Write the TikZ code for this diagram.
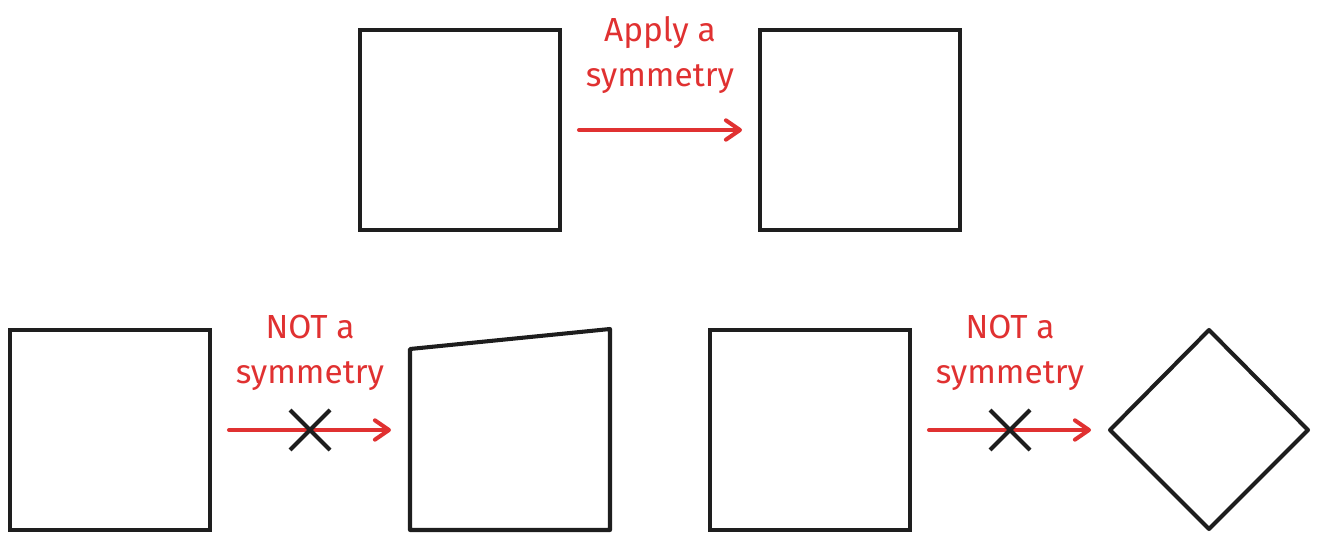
\documentclass[tikz,border=0pt]{standalone}
\usepackage{fontspec}
\setmainfont{Fira Sans}
\usetikzlibrary{arrows.meta}
\definecolor{inkblack}{HTML}{1E1E1E}
\definecolor{inkred}{HTML}{E03131}
\tikzset{
  shapebox/.style={draw=inkblack,line width=2.3pt,minimum size=4cm,inner sep=0pt,outer sep=0pt},
  maparrow/.style={draw=inkred,line width=2.3pt,line cap=round,-{Straight Barb[length=8pt,width=11pt,line width=2.3pt,round]}},
  maplabel/.style={text=inkred,align=center,font=\fontsize{19}{25.5}\selectfont},
  crossmark/.style={draw=inkblack,line width=2.3pt}
}
\begin{document}
\begin{tikzpicture}[x=0.02cm,y=-0.02cm]
                \useasboundingbox (0,0) rectangle (1317,540);
                % top row
                \node[shapebox] (topA) at (460,130) {};
                \node[shapebox] (topB) at (860,130) {};
                \coordinate (topS) at (579,130);
                \coordinate (topE) at (742,130);
                \draw[maparrow] (topS)--(topE);
                \node[maplabel] (topL) at (660,55) {Apply a\\symmetry};
                % bottom left
                \node[shapebox] (leftA) at (110,430) {};
                \coordinate (leftS) at (229,430);
                \coordinate (leftE) at (391,430);
                \draw[maparrow] (leftS)--(leftE);
                \node[maplabel] (leftL) at (310,353) {NOT a\\symmetry};
                \draw[crossmark] (290,410)--(330,450) (290,450)--(330,410);
                \draw[draw=inkblack,line width=2.3pt,line join=round] (410,349)--(610,329)--(610,530)--(410,530)--cycle;
                % bottom right
                \node[shapebox] (rightA) at (810,430) {};
                \coordinate (rightS) at (929,430);
                \coordinate (rightE) at (1091,430);
                \draw[maparrow] (rightS)--(rightE);
                \node[maplabel] (rightL) at (1010,353) {NOT a\\symmetry};
                \draw[crossmark] (990,410)--(1030,450) (990,450)--(1030,410);
                \draw[draw=inkblack,line width=2.3pt,line join=round] (1110,430)--(1209,330)--(1308,430)--(1209,529)--cycle;
            \end{tikzpicture}
\end{document}
